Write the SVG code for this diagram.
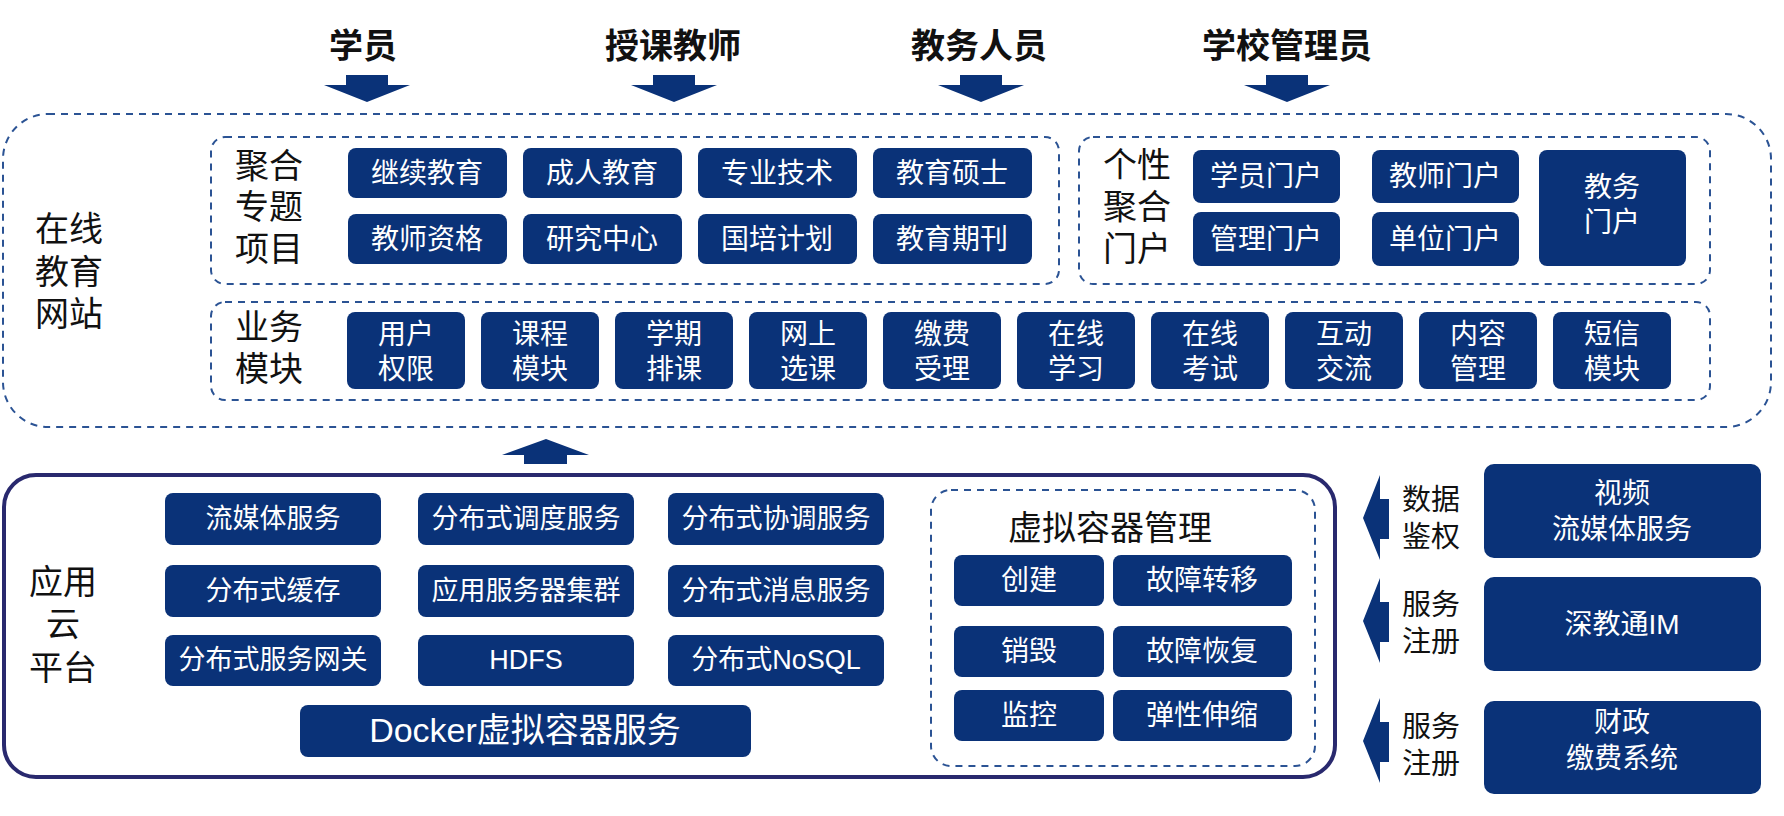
<svg xmlns="http://www.w3.org/2000/svg" width="1784" height="816" viewBox="0 0 1784 816">
<style>
text{font-family:"Liberation Sans","Noto Sans CJK SC",sans-serif;text-anchor:middle;dominant-baseline:central}
.title{font-size:34px;font-weight:bold;fill:#111}
.lbl{font-size:34px;fill:#111}
.lbl2{font-size:29px;fill:#111}
.btn{fill:#0A3278}
.bt{font-size:28px;fill:#fff}
.st{font-size:27px;fill:#fff}
.dash{fill:none;stroke:#2B5394;stroke-width:2;stroke-dasharray:7 6}
.arr{fill:#0A3278}
</style>
<rect width="1784" height="816" fill="#fff"/>

<g id="connectors">
  <polygon class="arr" points="346,75 388,75 388,85 410,85 367,102 324,85 346,85"/>
  <polygon class="arr" points="653,75 695,75 695,85 717,85 674,102 631,85 653,85"/>
  <polygon class="arr" points="960,75 1002,75 1002,85 1024,85 981,102 938,85 960,85"/>
  <polygon class="arr" points="1266,75 1308,75 1308,85 1330,85 1287,102 1244,85 1266,85"/>
  <polygon class="arr" points="546,439 589,455 567,455 567,464 524,464 524,455 502,455"/>
  <polygon class="arr" points="1380,475 1363,518 1380,560 1380,539 1389,539 1389,499 1380,499"/>
  <polygon class="arr" points="1380,578 1363,621 1380,663 1380,642 1389,642 1389,602 1380,602"/>
  <polygon class="arr" points="1380,698 1363,741 1380,783 1380,762 1389,762 1389,722 1380,722"/>
</g>

<g id="roles">
  <text class="title" x="363" y="46">学员</text>
  <text class="title" x="673" y="46">授课教师</text>
  <text class="title" x="979" y="46">教务人员</text>
  <text class="title" x="1287" y="46">学校管理员</text>
</g>

<g id="online-site">
  <rect class="dash" x="3" y="114" width="1768" height="313" rx="45"/>
  <text class="lbl" x="69" y="229">在线<tspan x="69" dy="43">教育</tspan><tspan x="69" dy="42">网站</tspan></text>
</g>

<g id="topics">
  <rect class="dash" x="211" y="137" width="848" height="147" rx="14"/>
  <text class="lbl" x="269" y="166">聚合<tspan x="269" dy="41">专题</tspan><tspan x="269" dy="42">项目</tspan></text>
  <rect class="btn" x="348" y="148" width="159" height="50" rx="8"/><text class="bt" x="427" y="173">继续教育</text>
  <rect class="btn" x="523" y="148" width="159" height="50" rx="8"/><text class="bt" x="602" y="173">成人教育</text>
  <rect class="btn" x="698" y="148" width="159" height="50" rx="8"/><text class="bt" x="777" y="173">专业技术</text>
  <rect class="btn" x="873" y="148" width="159" height="50" rx="8"/><text class="bt" x="952" y="173">教育硕士</text>
  <rect class="btn" x="348" y="214" width="159" height="50" rx="8"/><text class="bt" x="427" y="239">教师资格</text>
  <rect class="btn" x="523" y="214" width="159" height="50" rx="8"/><text class="bt" x="602" y="239">研究中心</text>
  <rect class="btn" x="698" y="214" width="159" height="50" rx="8"/><text class="bt" x="777" y="239">国培计划</text>
  <rect class="btn" x="873" y="214" width="159" height="50" rx="8"/><text class="bt" x="952" y="239">教育期刊</text>
</g>

<g id="portals">
  <rect class="dash" x="1079" y="137" width="631" height="147" rx="14"/>
  <text class="lbl" x="1137" y="165">个性<tspan x="1137" dy="42">聚合</tspan><tspan x="1137" dy="42">门户</tspan></text>
  <rect class="btn" x="1193" y="150" width="147" height="53" rx="8"/><text class="bt" x="1266" y="176">学员门户</text>
  <rect class="btn" x="1193" y="212" width="147" height="54" rx="8"/><text class="bt" x="1266" y="239">管理门户</text>
  <rect class="btn" x="1372" y="150" width="147" height="53" rx="8"/><text class="bt" x="1445" y="176">教师门户</text>
  <rect class="btn" x="1372" y="212" width="147" height="54" rx="8"/><text class="bt" x="1445" y="239">单位门户</text>
  <rect class="btn" x="1539" y="150" width="147" height="116" rx="8"/>
  <text class="bt" x="1612" y="187">教务<tspan x="1612" dy="35">门户</tspan></text>
</g>

<g id="business">
  <rect class="dash" x="211" y="302" width="1499" height="98" rx="14"/>
  <text class="lbl" x="269" y="327">业务<tspan x="269" dy="42">模块</tspan></text>
  <rect class="btn" x="347" y="312" width="118" height="77" rx="8"/><text class="bt" x="406" y="334">用户<tspan x="406" dy="35">权限</tspan></text>
  <rect class="btn" x="481" y="312" width="118" height="77" rx="8"/><text class="bt" x="540" y="334">课程<tspan x="540" dy="35">模块</tspan></text>
  <rect class="btn" x="615" y="312" width="118" height="77" rx="8"/><text class="bt" x="674" y="334">学期<tspan x="674" dy="35">排课</tspan></text>
  <rect class="btn" x="749" y="312" width="118" height="77" rx="8"/><text class="bt" x="808" y="334">网上<tspan x="808" dy="35">选课</tspan></text>
  <rect class="btn" x="883" y="312" width="118" height="77" rx="8"/><text class="bt" x="942" y="334">缴费<tspan x="942" dy="35">受理</tspan></text>
  <rect class="btn" x="1017" y="312" width="118" height="77" rx="8"/><text class="bt" x="1076" y="334">在线<tspan x="1076" dy="35">学习</tspan></text>
  <rect class="btn" x="1151" y="312" width="118" height="77" rx="8"/><text class="bt" x="1210" y="334">在线<tspan x="1210" dy="35">考试</tspan></text>
  <rect class="btn" x="1285" y="312" width="118" height="77" rx="8"/><text class="bt" x="1344" y="334">互动<tspan x="1344" dy="35">交流</tspan></text>
  <rect class="btn" x="1419" y="312" width="118" height="77" rx="8"/><text class="bt" x="1478" y="334">内容<tspan x="1478" dy="35">管理</tspan></text>
  <rect class="btn" x="1553" y="312" width="118" height="77" rx="8"/><text class="bt" x="1612" y="334">短信<tspan x="1612" dy="35">模块</tspan></text>
</g>

<g id="app-cloud">
  <rect x="4" y="475" width="1331" height="302" rx="32" fill="none" stroke="#29296E" stroke-width="4"/>
  <text class="lbl" x="63" y="582">应用<tspan x="63" dy="42">云</tspan><tspan x="63" dy="44">平台</tspan></text>
  <rect class="btn" x="165" y="493" width="216" height="52" rx="8"/><text class="st" x="273" y="519">流媒体服务</text>
  <rect class="btn" x="418" y="493" width="216" height="52" rx="8"/><text class="st" x="526" y="519">分布式调度服务</text>
  <rect class="btn" x="668" y="493" width="216" height="52" rx="8"/><text class="st" x="776" y="519">分布式协调服务</text>
  <rect class="btn" x="165" y="565" width="216" height="52" rx="8"/><text class="st" x="273" y="591">分布式缓存</text>
  <rect class="btn" x="418" y="565" width="216" height="52" rx="8"/><text class="st" x="526" y="591">应用服务器集群</text>
  <rect class="btn" x="668" y="565" width="216" height="52" rx="8"/><text class="st" x="776" y="591">分布式消息服务</text>
  <rect class="btn" x="165" y="635" width="216" height="51" rx="8"/><text class="st" x="273" y="660">分布式服务网关</text>
  <rect class="btn" x="418" y="635" width="216" height="51" rx="8"/><text class="st" x="526" y="660">HDFS</text>
  <rect class="btn" x="668" y="635" width="216" height="51" rx="8"/><text class="st" x="776" y="660">分布式NoSQL</text>
  <rect class="btn" x="300" y="705" width="451" height="52" rx="8"/><text class="bt" style="font-size:34px" x="525" y="730">Docker虚拟容器服务</text>
</g>

<g id="container-mgmt">
  <rect class="dash" x="931" y="490" width="384" height="276" rx="20"/>
  <text class="lbl" x="1110" y="528">虚拟容器管理</text>
  <rect class="btn" x="954" y="555" width="150" height="51" rx="8"/><text class="bt" x="1029" y="580">创建</text>
  <rect class="btn" x="1113" y="555" width="179" height="51" rx="8"/><text class="bt" x="1202" y="580">故障转移</text>
  <rect class="btn" x="954" y="626" width="150" height="51" rx="8"/><text class="bt" x="1029" y="651">销毁</text>
  <rect class="btn" x="1113" y="626" width="179" height="51" rx="8"/><text class="bt" x="1202" y="651">故障恢复</text>
  <rect class="btn" x="954" y="690" width="150" height="51" rx="8"/><text class="bt" x="1029" y="715">监控</text>
  <rect class="btn" x="1113" y="690" width="179" height="51" rx="8"/><text class="bt" x="1202" y="715">弹性伸缩</text>
</g>

<g id="ext-video">
  <text class="lbl2" x="1431" y="500">数据<tspan x="1431" dy="37">鉴权</tspan></text>
  <rect class="btn" x="1484" y="464" width="277" height="94" rx="10"/>
  <text class="bt" x="1622" y="493">视频<tspan x="1622" dy="36">流媒体服务</tspan></text>
</g>

<g id="ext-im">
  <text class="lbl2" x="1431" y="605">服务<tspan x="1431" dy="37">注册</tspan></text>
  <rect class="btn" x="1484" y="577" width="277" height="94" rx="10"/>
  <text class="bt" x="1622" y="624">深教通IM</text>
</g>

<g id="ext-finance">
  <text class="lbl2" x="1431" y="727">服务<tspan x="1431" dy="37">注册</tspan></text>
  <rect class="btn" x="1484" y="701" width="277" height="93" rx="10"/>
  <text class="bt" x="1622" y="722">财政<tspan x="1622" dy="36">缴费系统</tspan></text>
</g>
</svg>
